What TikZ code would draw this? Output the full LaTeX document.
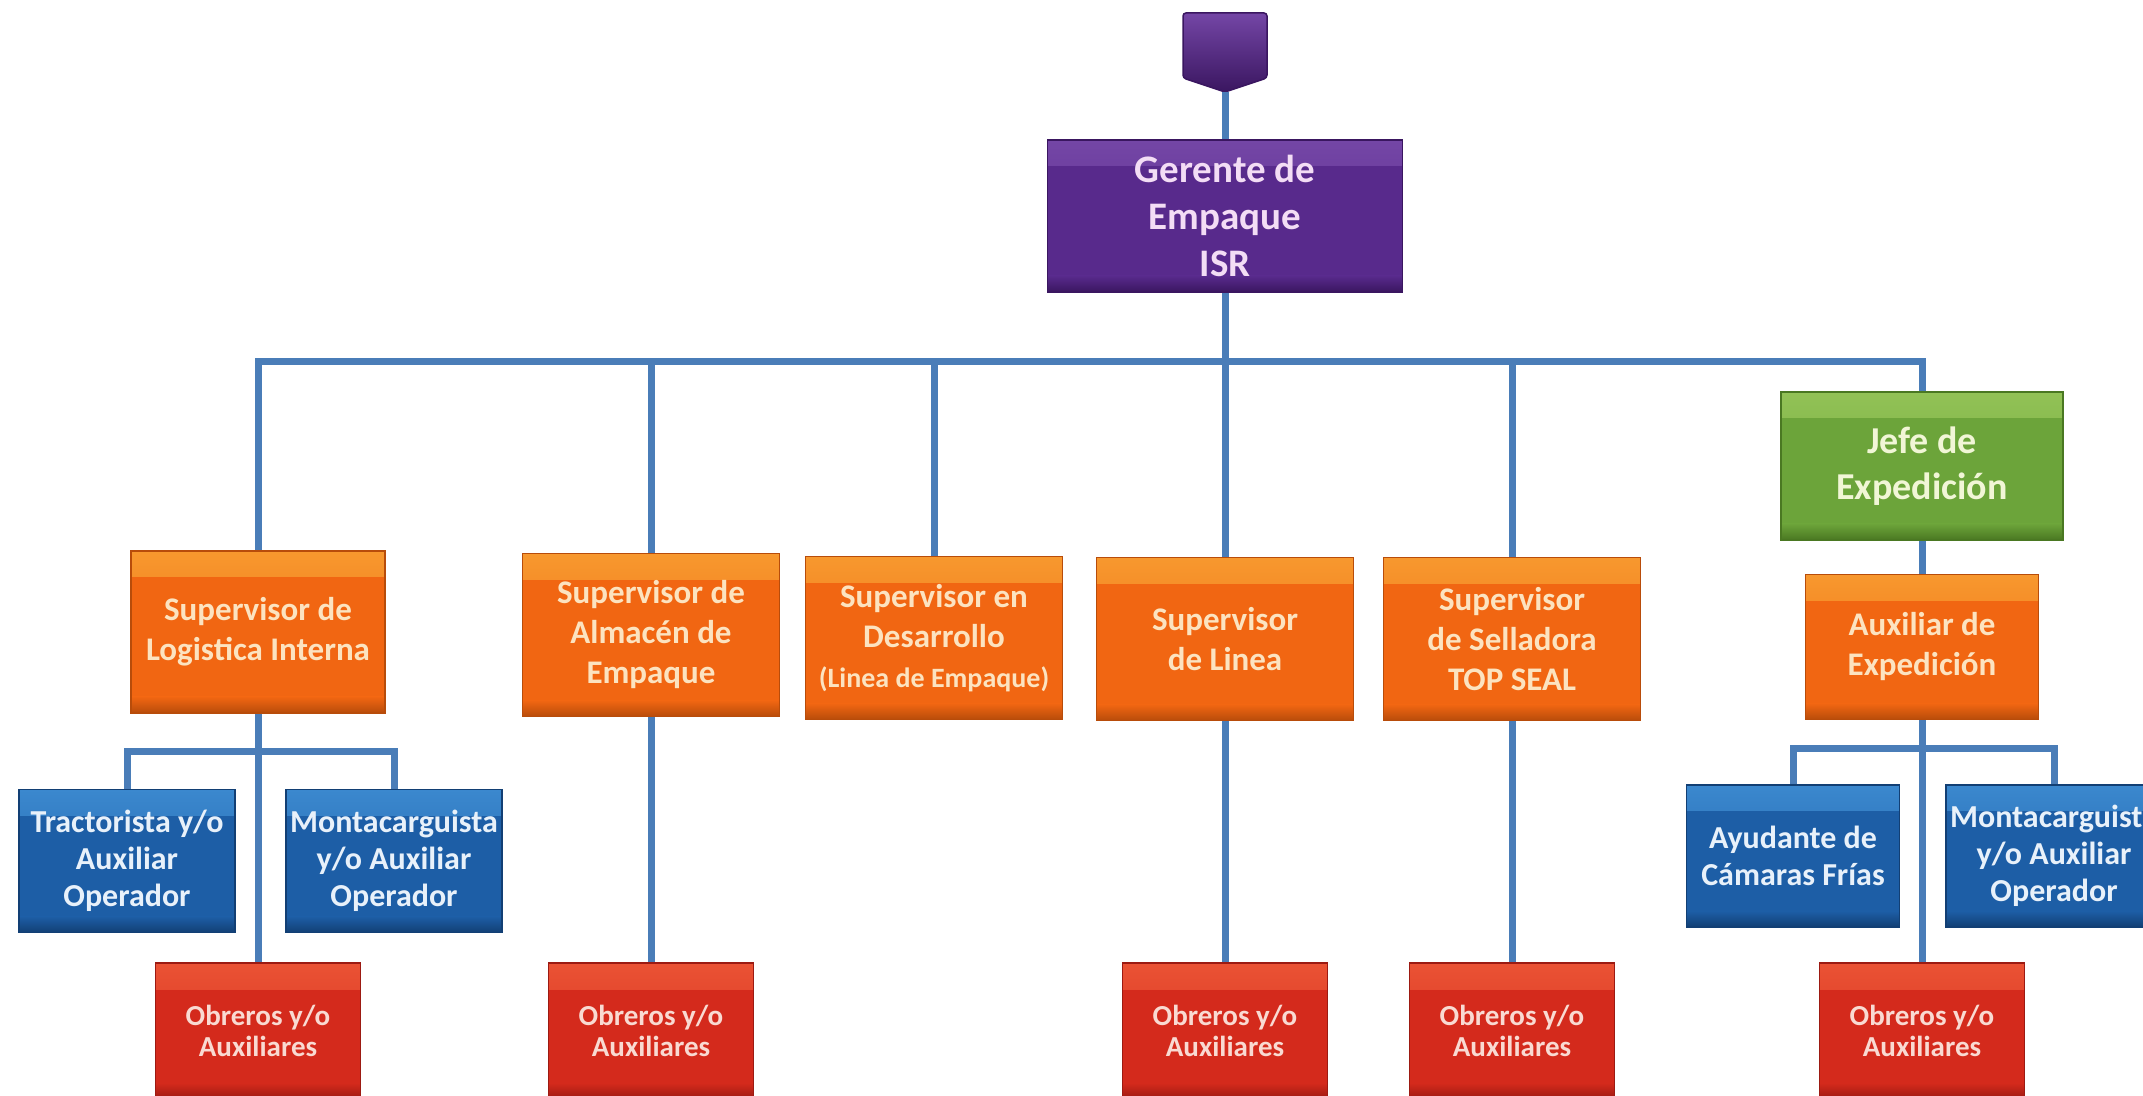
\documentclass[tikz,border=0pt]{standalone}
\usepackage{fontspec}
\setmainfont{Carlito}
\usetikzlibrary{positioning}

\definecolor{linkblue}{HTML}{4A7DB8}
\definecolor{purplemain}{HTML}{582A8C}
\definecolor{purplelight}{HTML}{7446A6}
\definecolor{purpledark}{HTML}{3A1660}
\definecolor{purpletext}{HTML}{F3DDF5}
\definecolor{orangemain}{HTML}{F16612}
\definecolor{orangelight}{HTML}{F7982E}
\definecolor{orangedark}{HTML}{B84C0A}
\definecolor{orangetext}{HTML}{FCE3C0}
\definecolor{greenmain}{HTML}{6CA43A}
\definecolor{greenlight}{HTML}{92C256}
\definecolor{greendark}{HTML}{4A7822}
\definecolor{greentext}{HTML}{F1F6D6}
\definecolor{bluemain}{HTML}{1D5EA6}
\definecolor{bluelight}{HTML}{3B88CE}
\definecolor{bluedark}{HTML}{123F74}
\definecolor{bluetext}{HTML}{E8F1FA}
\definecolor{redmain}{HTML}{D42A1C}
\definecolor{redlight}{HTML}{EA5234}
\definecolor{reddark}{HTML}{9C1A12}
\definecolor{redtext}{HTML}{F9DAD2}

\tikzset{
  conn/.style={draw=linkblue, line width=7pt},
  box/.style={rectangle, inner sep=0pt, align=center, line width=1.5pt, fill=#1main, draw=#1dark, text=#1text,
    path picture={
      \shade[top color=#1light, bottom color=#1main] (path picture bounding box.north west) rectangle ([yshift=-26pt]path picture bounding box.north east);
      \shade[top color=#1main, bottom color=#1dark] ([yshift=16pt]path picture bounding box.south west) rectangle (path picture bounding box.south east);
    }},
  gerbox/.style={box=purple, minimum width=355pt, minimum height=152pt, font=\bfseries\fontsize{39}{47}\selectfont},
  supbox/.style={box=orange, minimum width=257pt, minimum height=163pt, font=\bfseries\fontsize{33}{40}\selectfont},
  jefebox/.style={box=green, minimum width=282pt, minimum height=148pt, font=\bfseries\fontsize{38}{46}\selectfont},
  opbox/.style={box=blue, minimum width=216pt, minimum height=143pt, font=\bfseries\fontsize{32}{37}\selectfont},
  obrbox/.style={box=red, minimum width=205pt, minimum height=136pt, font=\bfseries\fontsize{29}{31}\selectfont}
}

\begin{document}
\begin{tikzpicture}[x=1pt, y=1pt]
    \useasboundingbox (0,0) rectangle (2143,1095);
    \clip (0,0) rectangle (2143,1095);
    \fill[white] (0,0) rectangle (2143,1095);

    % top
    \shade[top color=purplelight, middle color=purplemain, bottom color=purpledark, draw=purpledark, line width=1.5pt, rounded corners=3pt]
        (1183,1082) -- (1267,1082) -- (1267,1017) -- (1225,1003) -- (1183,1017) -- cycle;
    \coordinate (tip) at (1225,1003);
    \node[gerbox] (gerente) at (1225,879) {Gerente de\\Empaque\\ISR};
    \coordinate (bus) at (0,733);

    % supervisores
    \node[supbox, minimum width=254pt, minimum height=162pt] (logistica) at (258,463) {Supervisor de\\Logistica Interna};
    \node[supbox] (almacen) at (651,460) {Supervisor de\\Almacén de\\Empaque};
    \node[supbox] (desarrollo) at (934,457) {Supervisor en\\Desarrollo\\{\fontsize{28}{32}\selectfont(Linea de Empaque)}};
    \node[supbox] (linea) at (1225,456) {Supervisor\\de Linea};
    \node[supbox] (selladora) at (1512,456) {Supervisor\\de Selladora\\TOP SEAL};
    \node[jefebox] (jefe) at (1922,629) {Jefe de\\Expedición};
    \node[supbox, minimum width=233pt, minimum height=145pt] (auxexp) at (1922,448) {Auxiliar de\\Expedición};

    % operadores
    \node[opbox] (tractorista) at (127,234) {Tractorista y/o\\Auxiliar\\Operador};
    \node[opbox] (montaizq) at (394,234) {Montacarguista\\y/o Auxiliar\\Operador};
    \node[opbox, minimum width=213pt, minimum height=142pt] (ayudante) at (1793,239) {Ayudante de\\Cámaras Frías};
    \node[opbox, minimum height=142pt] (montader) at (2054,239) {Montacarguista\\y/o Auxiliar\\Operador};
    \coordinate (subizq) at (0,343);
    \coordinate (subder) at (0,346);

    % obreros
    \node[obrbox] (obreros1) at (258,64) {Obreros y/o\\Auxiliares};
    \node[obrbox] (obreros2) at (651,64) {Obreros y/o\\Auxiliares};
    \node[obrbox] (obreros3) at (1225,64) {Obreros y/o\\Auxiliares};
    \node[obrbox] (obreros4) at (1512,64) {Obreros y/o\\Auxiliares};
    \node[obrbox] (obreros5) at (1922,64) {Obreros y/o\\Auxiliares};

    % lineas
    \draw[conn] (tip) -- (gerente.north);
    \draw[conn] (gerente.south) -- (gerente.south |- bus);
    \draw[conn] (logistica.north) -- (logistica.north |- bus) -- (jefe.north |- bus) -- (jefe.north);
    \draw[conn] (almacen.north) -- (almacen.north |- bus);
    \draw[conn] (desarrollo.north) -- (desarrollo.north |- bus);
    \draw[conn] (linea.north) -- (linea.north |- bus);
    \draw[conn] (selladora.north) -- (selladora.north |- bus);
    \draw[conn] (jefe.south) -- (auxexp.north);
    \draw[conn] (logistica.south) -- (obreros1.north);
    \draw[conn] (tractorista.north) -- (tractorista.north |- subizq) -- (montaizq.north |- subizq) -- (montaizq.north);
    \draw[conn] (almacen.south) -- (obreros2.north);
    \draw[conn] (linea.south) -- (obreros3.north);
    \draw[conn] (selladora.south) -- (obreros4.north);
    \draw[conn] (auxexp.south) -- (obreros5.north);
    \draw[conn] (ayudante.north) -- (ayudante.north |- subder) -- (montader.north |- subder) -- (montader.north);
\end{tikzpicture}
\end{document}
